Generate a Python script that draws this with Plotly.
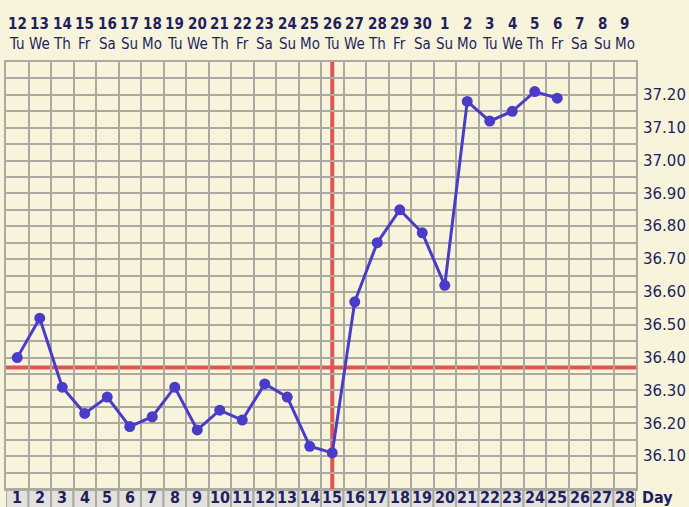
import plotly.graph_objects as go

# ---- data ----
cycle_days = list(range(1, 29))
dates = [12, 13, 14, 15, 16, 17, 18, 19, 20, 21, 22, 23, 24, 25, 26, 27, 28, 29, 30,
         1, 2, 3, 4, 5, 6, 7, 8, 9]
weekdays = ["Tu", "We", "Th", "Fr", "Sa", "Su", "Mo", "Tu", "We", "Th", "Fr", "Sa", "Su", "Mo",
            "Tu", "We", "Th", "Fr", "Sa", "Su", "Mo", "Tu", "We", "Th", "Fr", "Sa", "Su", "Mo"]
temp_days = list(range(1, 26))
temps = [36.40, 36.52, 36.31, 36.23, 36.28, 36.19, 36.22, 36.31, 36.18, 36.24,
         36.21, 36.32, 36.28, 36.13, 36.11, 36.57, 36.75, 36.85, 36.78, 36.62,
         37.18, 37.12, 37.15, 37.21, 37.19]
ytick_vals = [36.10, 36.20, 36.30, 36.40, 36.50, 36.60, 36.70, 36.80, 36.90, 37.00, 37.10, 37.20]
ovulation_day = 15
coverline = 36.37
y_min, y_max = 36.00, 37.30

# ---- style ----
CREAM = "#f8f4dc"
GRID = "#aba9a2"
NAVY = "#221f5e"
BLUE = "#4a3cc9"
RED = "#dc5656"
CELL = "#e3e1dc"

fig = go.Figure()
fig.add_trace(go.Scatter(
    x=temp_days, y=temps, mode="lines+markers",
    line=dict(color=BLUE, width=3),
    marker=dict(color=BLUE, size=11),
    hoverinfo="skip", showlegend=False,
))

shapes = []
# bottom day cells
for d in cycle_days:
    shapes.append(dict(type="rect", xref="x", yref="paper", x0=d - 0.5, x1=d + 0.5,
                       y0=-0.08, y1=0, fillcolor=CELL, line=dict(color=GRID, width=2),
                       layer="below"))
# coverline and ovulation line
shapes.append(dict(type="line", xref="paper", yref="y", x0=0, x1=1, y0=coverline, y1=coverline,
                   line=dict(color=RED, width=4), layer="between"))
shapes.append(dict(type="line", xref="x", yref="paper", x0=ovulation_day, x1=ovulation_day,
                   y0=0, y1=1, line=dict(color=RED, width=4), layer="between"))

annotations = []
for d, dt, wd in zip(cycle_days, dates, weekdays):
    annotations.append(dict(x=d, xref="x", y=1.090, yref="paper", text=f"<b>{dt}</b>",
                            showarrow=False, xanchor="center", yanchor="middle",
                            font=dict(family="DejaVu Sans Condensed", size=15, color=NAVY)))
    annotations.append(dict(x=d, xref="x", y=1.043, yref="paper", text=wd,
                            showarrow=False, xanchor="center", yanchor="middle",
                            font=dict(family="DejaVu Sans Condensed", size=15, color=NAVY)))
    annotations.append(dict(x=d, xref="x", y=-0.019, yref="paper", text=f"<b>{d}</b>",
                            showarrow=False, xanchor="center", yanchor="middle",
                            font=dict(family="DejaVu Sans Condensed", size=16, color=NAVY)))
annotations.append(dict(x=1.006, xref="paper", y=-0.019, yref="paper", text="<b>Day</b>",
                        showarrow=False, xanchor="left", yanchor="middle",
                        font=dict(family="DejaVu Sans Condensed", size=16, color=NAVY)))

fig.update_layout(
    width=689, height=507,
    margin=dict(l=6, r=53, t=62, b=18, autoexpand=False),
    paper_bgcolor=CREAM, plot_bgcolor=CREAM,
    shapes=shapes, annotations=annotations,
    xaxis=dict(
        range=[0.5, 28.5], tickmode="array", tickvals=cycle_days,
        showticklabels=False,
        showgrid=False, zeroline=False, ticks="", automargin=False,
        minor=dict(tick0=0.5, dtick=1, showgrid=True, gridcolor=GRID, gridwidth=2),
        showline=True, mirror=True, linecolor=GRID, linewidth=2,
        fixedrange=True,
    ),
    yaxis=dict(
        range=[y_min, y_max], side="right", tickmode="array", tickvals=ytick_vals,
        ticktext=[f"{v:.2f}" for v in ytick_vals],
        tickfont=dict(family="DejaVu Sans", size=15, color=NAVY),
        showgrid=True, gridcolor=GRID, gridwidth=2, zeroline=False, ticks="",
        minor=dict(tick0=36.0, dtick=0.05, showgrid=True, gridcolor=GRID, gridwidth=2),
        showline=True, mirror=True, linecolor=GRID, linewidth=2, automargin=False,
        ticklabelstandoff=2, fixedrange=True,
    ),
)

fig.write_html(
    "out.html",
    config={"displayModeBar": False},
    post_script="document.body.style.margin='0';document.body.style.padding='0';"
                "document.documentElement.style.background='%s';" % CREAM,
)
